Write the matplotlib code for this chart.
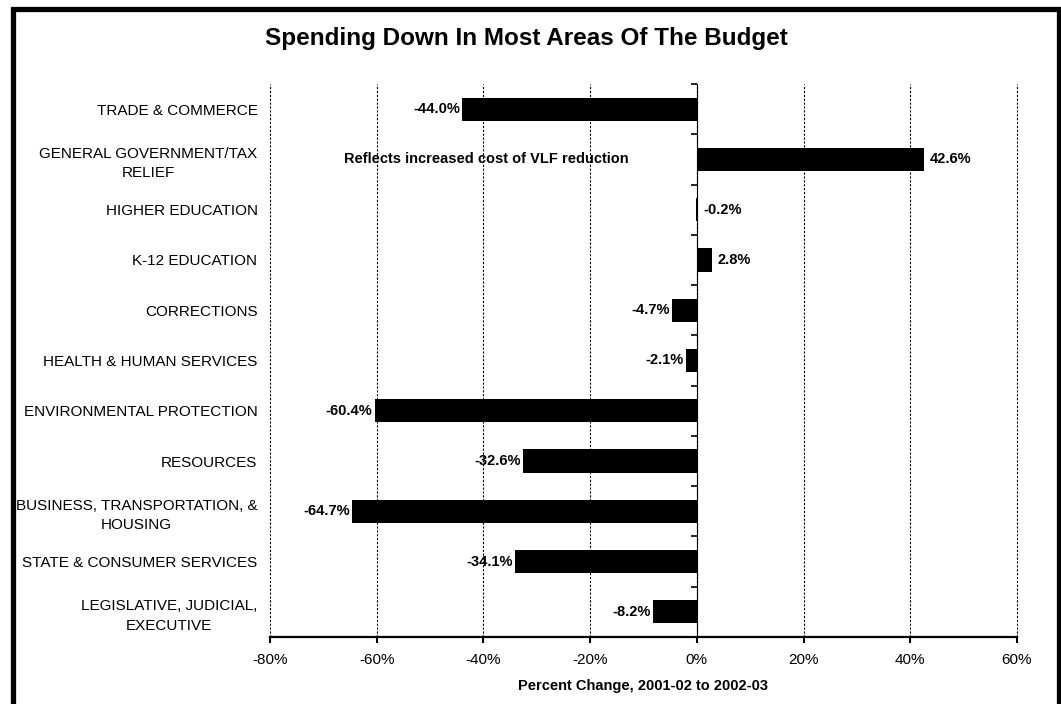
import numpy as np
import matplotlib.pyplot as plt
from matplotlib.patches import Rectangle
from matplotlib.ticker import FuncFormatter

plt.rcParams['font.family'] = ['Liberation Sans', 'DejaVu Sans']

# budget areas, top to bottom
categories = ["TRADE & COMMERCE",
              "GENERAL GOVERNMENT/TAX\nRELIEF",
              "HIGHER EDUCATION",
              "K-12 EDUCATION",
              "CORRECTIONS",
              "HEALTH & HUMAN SERVICES",
              "ENVIRONMENTAL PROTECTION",
              "RESOURCES",
              "BUSINESS, TRANSPORTATION, &\nHOUSING",
              "STATE & CONSUMER SERVICES",
              "LEGISLATIVE, JUDICIAL,\nEXECUTIVE"]
pct_change = [-44.0, 42.6, -0.2, 2.8, -4.7, -2.1, -60.4, -32.6, -64.7, -34.1, -8.2]
x_ticks = [-80, -60, -40, -20, 0, 20, 40, 60]
note = "Reflects increased cost of VLF reduction"

fig = plt.figure(figsize=(10.61, 7.04), dpi=100)
ax = fig.add_axes([270/1061, 1 - 637/704, (1017-270)/1061, (637-84)/704])

y = np.arange(len(categories))
ax.barh(y, pct_change, height=0.46, color='black', zorder=3)

ax.set_xlim(-80, 60)
ax.set_ylim(len(categories) - 0.5, -0.5)

# vertical dashed gridlines
ax.set_xticks(x_ticks)
ax.xaxis.set_major_formatter(FuncFormatter(lambda v, p: f"{v:.0f}%"))
ax.grid(axis='x', color='black', linestyle=(0, (2, 1.5)), linewidth=0.8, zorder=1)
ax.grid(axis='y', visible=False)
for gl in ax.get_xgridlines():
    gl.set_clip_on(False)

for s in ['top', 'right', 'left']:
    ax.spines[s].set_visible(False)
ax.spines['bottom'].set_linewidth(1.6)
ax.tick_params(axis='x', length=4.5, width=1.5, pad=7, labelsize=11)

ax.set_yticks(y)
ax.set_yticklabels(categories, fontsize=11, linespacing=1.5)
ax.tick_params(axis='y', length=0, pad=9)
for lbl in ax.get_yticklabels():
    lbl.set_multialignment('center')

# zero line with small ticks between categories
zero = ax.secondary_yaxis(80 / 140)
zero.set_yticks(np.arange(len(categories) + 1) - 0.5)
zero.tick_params(axis='y', length=4, width=1.2, direction='in', labelleft=False, labelright=False)
zero.spines['left'].set_linewidth(1.6)

ax.set_xlabel("Percent Change, 2001-02 to 2002-03", fontsize=10.5, fontweight='bold', labelpad=9)

# value labels
for yi, v in zip(y, pct_change):
    if v < -1:
        ax.annotate(f"{v:.1f}%", (v, yi), xytext=(-1.5, 0), textcoords='offset points',
                    ha='right', va='center', fontsize=10.5, fontweight='bold')
    else:
        ax.annotate(f"{v:.1f}%", (max(v, 0), yi), xytext=(4 if v > 0 else 4.5, 0),
                    textcoords='offset points', ha='left', va='center',
                    fontsize=10.5, fontweight='bold')

ax.text(-39.4, 1, note, ha='center', va='center', fontsize=10.5, fontweight='bold')

fig.text(526/1061, 1 - 38/704, "Spending Down In Most Areas Of The Budget",
         ha='center', va='center', fontsize=17.5, fontweight='bold')

# outer frame
fig.patches.append(Rectangle((12.5/1061, -0.1), (1058.5-12.5)/1061, 1.1 - 9.5/704,
                             transform=fig.transFigure, fill=False, edgecolor='black',
                             linewidth=3.8))

fig.savefig("out.png", dpi=100)
